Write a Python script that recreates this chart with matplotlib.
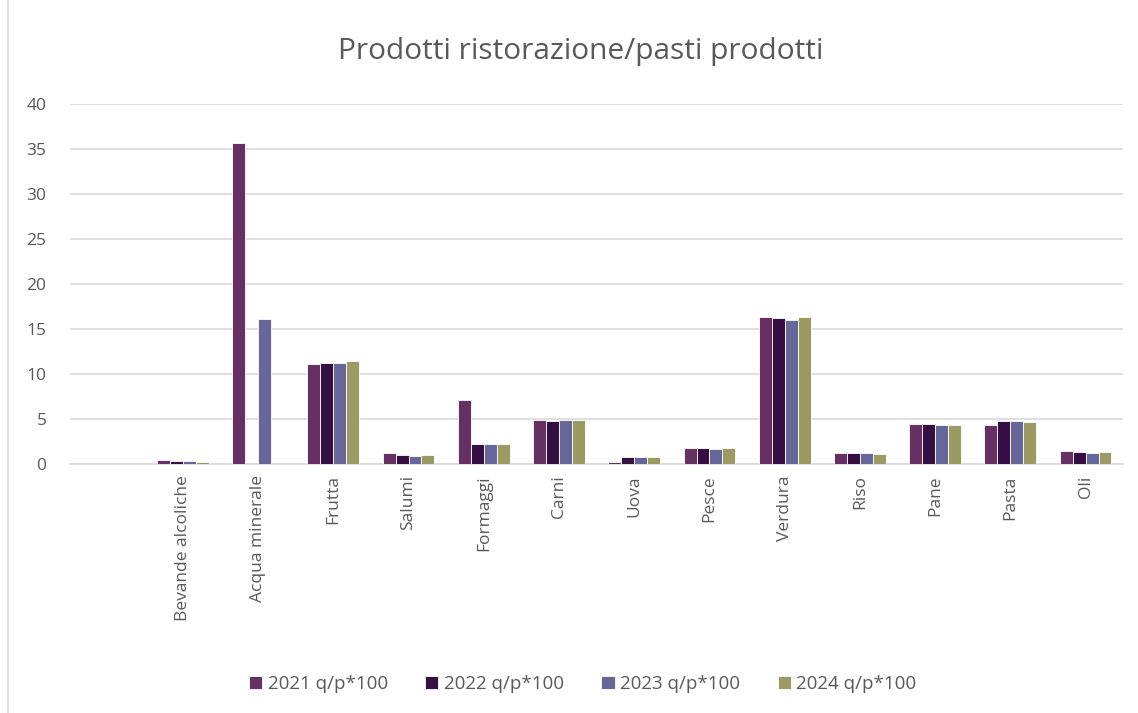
import numpy as np
import matplotlib.pyplot as plt
from matplotlib.patches import Rectangle

plt.rcParams['font.family'] = ['Open Sans', 'DejaVu Sans']

# first slot is empty in the original chart
categories = ['', 'Bevande alcoliche', 'Acqua minerale', 'Frutta', 'Salumi', 'Formaggi',
              'Carni', 'Uova', 'Pesce', 'Verdura', 'Riso', 'Pane', 'Pasta', 'Oli']
series_names = ['2021 q/p*100', '2022 q/p*100', '2023 q/p*100', '2024 q/p*100']
v2021 = [np.nan, 0.5, 35.7, 11.1, 1.2, 7.15, 4.95, 0.2, 1.75, 16.4, 1.22, 4.5, 4.3, 1.42]
v2022 = [np.nan, 0.3, 0, 11.2, 1.07, 2.26, 4.8, 0.75, 1.75, 16.2, 1.22, 4.42, 4.85, 1.38]
v2023 = [np.nan, 0.3, 16.15, 11.2, 0.96, 2.26, 4.87, 0.75, 1.68, 16.0, 1.19, 4.35, 4.8, 1.22]
v2024 = [np.nan, 0.25, 0, 11.45, 1.07, 2.22, 4.95, 0.8, 1.75, 16.35, 1.15, 4.35, 4.7, 1.34]
colors = ['#663062', '#350f42', '#666699', '#9b9a62']

fig = plt.figure(figsize=(11.38, 7.13), dpi=100)
ax = fig.add_axes([0.0615, 0.349, 0.9255, 0.505])

x = np.arange(len(categories))
w = 0.172
for i, (vals, name) in enumerate(zip([v2021, v2022, v2023, v2024], series_names)):
    ax.bar(x + (i - 1.5) * w, vals, width=w, color=colors[i], edgecolor='white',
           linewidth=0.6, label=name, zorder=3)

ax.set_xlim(-0.5, len(categories) - 0.5)
ax.set_ylim(0, 40)
ax.set_yticks(range(0, 41, 5))
ax.grid(axis='y', color='#d9d9d9', linewidth=1.2, zorder=0)
for s in ['top', 'right', 'left']:
    ax.spines[s].set_visible(False)
ax.spines['bottom'].set_color('#d9d9d9')
ax.spines['bottom'].set_linewidth(1.2)
ax.tick_params(axis='both', length=0, colors='#595959', labelsize=12.5)
ax.tick_params(axis='y', pad=17)
ax.tick_params(axis='x', pad=8)
ax.set_xticks(x)
ax.set_xticklabels(categories, rotation=90)

fig.text(0.51, 0.928, 'Prodotti ristorazione/pasti prodotti', fontsize=21.5,
         color='#595959', ha='center', va='center')

fig.legend(loc='center', bbox_to_anchor=(0.512, 0.04), ncol=4, frameon=False,
           fontsize=13.5, labelcolor='#595959', handlelength=0.7, handleheight=0.7,
           handletextpad=0.3, columnspacing=2.0)

fig.patches.append(Rectangle((0.007, -0.01), 0.995, 1.02, transform=fig.transFigure,
                             fill=False, edgecolor='#d9d9d9', linewidth=1.2))

fig.savefig('out.png', dpi=100)
